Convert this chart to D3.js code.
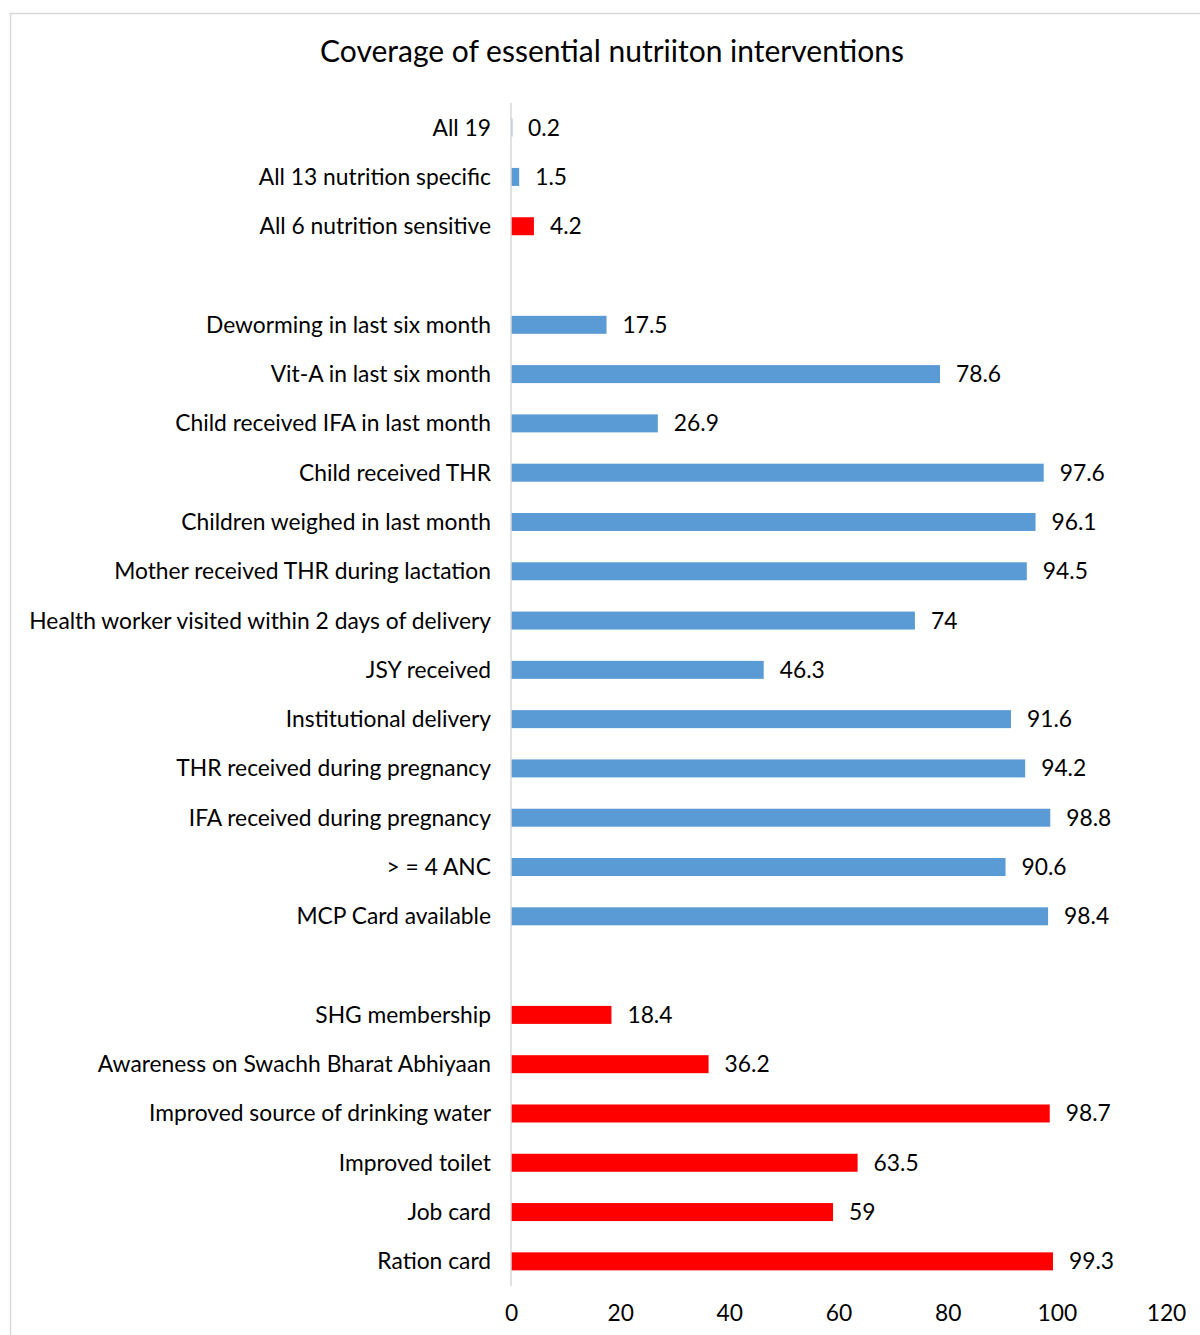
<!DOCTYPE html>
<html>
<head>
<meta charset="utf-8">
<script src="https://cdn.jsdelivr.net/npm/d3@7"></script>
<style>
  body { margin: 0; background: #fff; }
  svg { font-family: Lato, "Open Sans", sans-serif; }
</style>
</head>
<body>
<script>
// categories top to bottom, "" = empty spacer slot
var categories = ["All 19", "All 13 nutrition specific", "All 6 nutrition sensitive", "",
  "Deworming in last six month", "Vit-A in last six month", "Child received IFA in last month",
  "Child received THR", "Children weighed in last month", "Mother received THR during lactation",
  "Health worker visited within 2 days of delivery", "JSY received", "Institutional delivery",
  "THR received during pregnancy", "IFA received during pregnancy", "> = 4 ANC", "MCP Card available", "",
  "SHG membership", "Awareness on Swachh Bharat Abhiyaan", "Improved source of drinking water",
  "Improved toilet", "Job card", "Ration card"];
var values = [0.2, 1.5, 4.2, null,
  17.5, 78.6, 26.9, 97.6, 96.1, 94.5, 74, 46.3, 91.6, 94.2, 98.8, 90.6, 98.4, null,
  18.4, 36.2, 98.7, 63.5, 59, 99.3];
// "s" = nutrition specific (blue), "n" = nutrition sensitive (red)
var groups = ["s", "s", "n", "",
  "s", "s", "s", "s", "s", "s", "s", "s", "s", "s", "s", "s", "s", "",
  "n", "n", "n", "n", "n", "n"];
var xTicks = [0, 20, 40, 60, 80, 100, 120];
var title = "Coverage of essential nutriiton interventions";

var colors = {s: "#5b9bd5", n: "#ff0000"};

var W = 1200, H = 1335;
var margin = {top: 103, right: 34, bottom: 50, left: 511};
var fs = 22.8;

var svg = d3.select("body").append("svg").attr("width", W).attr("height", H);

// chart border (only top and left visible in the frame)
svg.append("rect").attr("x", 10.5).attr("y", 13.5).attr("width", 1300).attr("height", 1400)
  .attr("fill", "none").attr("stroke", "#d9d9d9").attr("stroke-width", 1.5);

svg.append("text").attr("x", 612).attr("y", 62).attr("text-anchor", "middle")
  .attr("font-size", 30).attr("fill", "#000").text(title);

var rows = categories.map(function(c, i) { return {key: i, label: c, value: values[i], group: groups[i]}; });

var x = d3.scaleLinear().domain([0, 120]).range([margin.left, 1166]);
var y = d3.scaleBand().domain(rows.map(function(d) { return d.key; }))
  .range([margin.top, 1286]).paddingInner(0.635).paddingOuter(0.3175);

var g = svg.append("g");

var bars = rows.filter(function(d) { return d.value !== null; });

g.selectAll("rect.bar").data(bars).enter().append("rect")
  .attr("class", "bar")
  .attr("x", x(0))
  .attr("y", function(d) { return y(d.key); })
  .attr("width", function(d) { return Math.max(1.5, x(d.value) - x(0)); })
  .attr("height", y.bandwidth())
  .attr("fill", function(d) { return colors[d.group]; })
  .attr("opacity", function(d) { return d.value < 1 ? 0.6 : 1; });

g.selectAll("text.val").data(bars).enter().append("text")
  .attr("class", "val")
  .attr("x", function(d) { return x(d.value) + 16; })
  .attr("y", function(d) { return y(d.key) + y.bandwidth() / 2; })
  .attr("dy", "0.35em").attr("font-size", fs).attr("fill", "#000")
  .text(function(d) { return d.value; });

g.selectAll("text.cat").data(rows).enter().append("text")
  .attr("class", "cat")
  .attr("x", margin.left - 20)
  .attr("y", function(d) { return y(d.key) + y.bandwidth() / 2; })
  .attr("dy", "0.35em").attr("text-anchor", "end").attr("font-size", fs).attr("fill", "#000")
  .text(function(d) { return d.label; });

// vertical axis line
svg.append("line").attr("x1", x(0)).attr("x2", x(0)).attr("y1", margin.top).attr("y2", 1286)
  .attr("stroke", "#d9d9d9").attr("stroke-width", 1.5);

// x axis labels only
var xAxis = d3.axisBottom(x).tickValues(xTicks).tickSize(0).tickPadding(16);
var ax = svg.append("g").attr("transform", "translate(0,1298)").call(xAxis);
ax.select(".domain").remove();
ax.selectAll("text").attr("font-size", fs).attr("fill", "#000").attr("font-family", "Lato, sans-serif")
  .attr("y", 15).attr("dy", "0.35em");
</script>
</body>
</html>
